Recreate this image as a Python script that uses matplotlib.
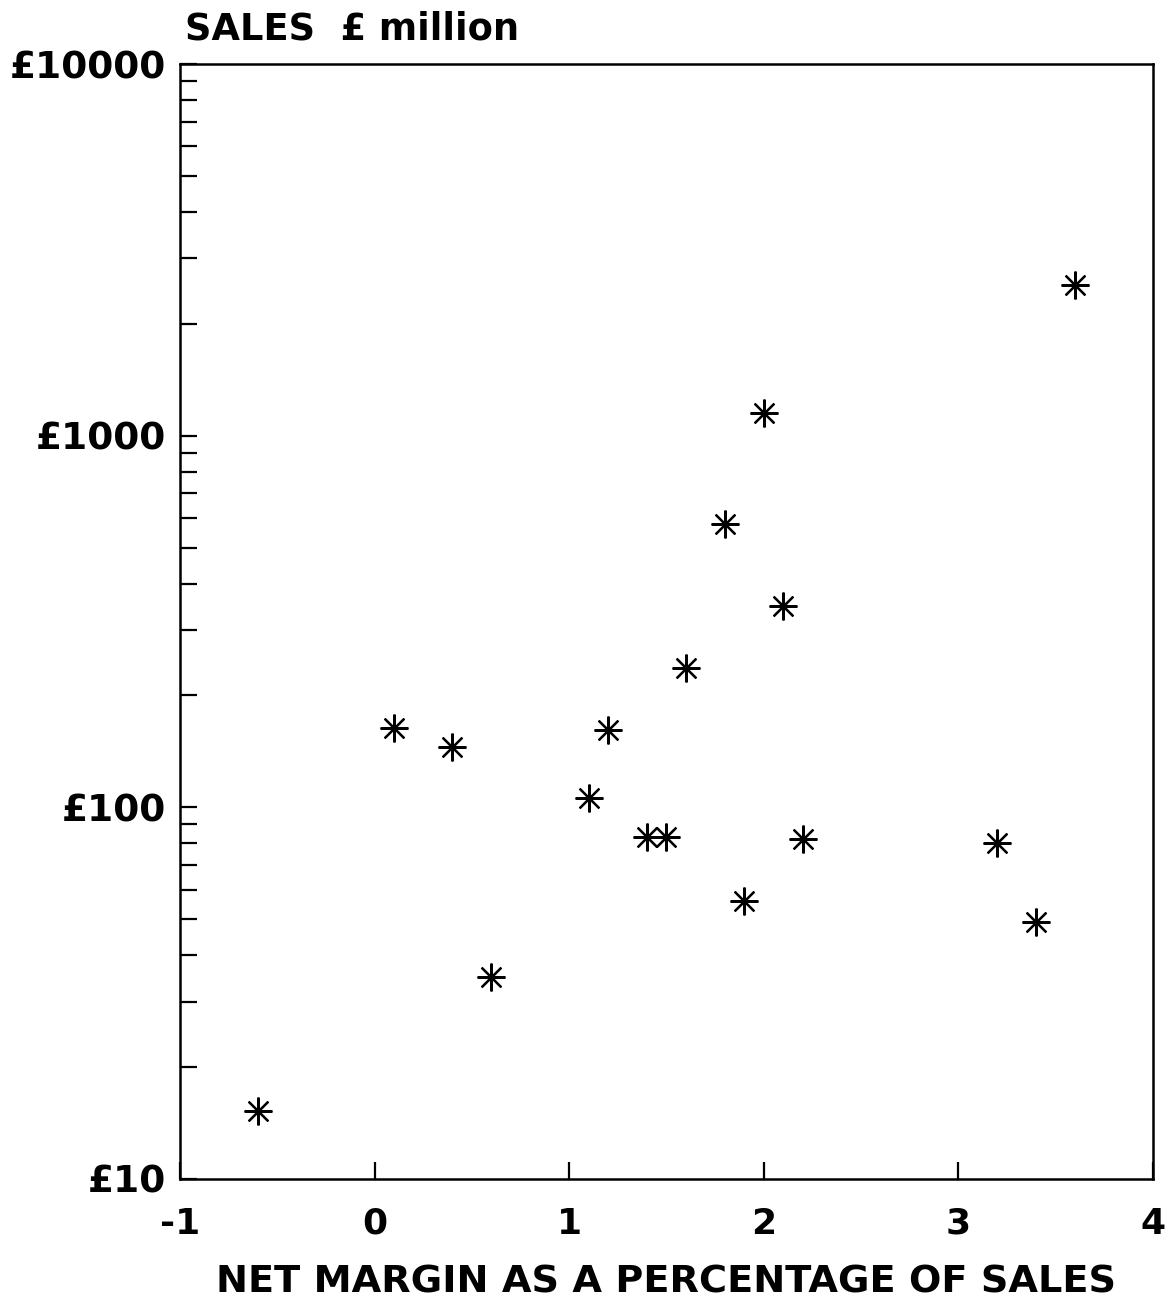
import matplotlib
matplotlib.use("Agg")
import matplotlib.pyplot as plt
from matplotlib.ticker import FixedLocator, LogLocator, NullFormatter, NullLocator

# Net margin (% of sales) and sales (£ million) for each company
net_margin = [-0.6, 0.1, 0.4, 0.6, 1.1, 1.2, 1.4, 1.5, 1.6, 1.8, 1.9, 2.0, 2.1, 2.2, 3.2, 3.4, 3.6]
sales = [15.2, 163, 145, 35, 106, 161, 83, 83, 237, 580, 56, 1150, 348, 82, 80, 49, 2550]

x_ticks = [-1, 0, 1, 2, 3, 4]
x_tick_labels = ["-1", "0", "1", "2", "3", "4"]
y_ticks = [10, 100, 1000, 10000]
y_tick_labels = ["£10", "£100", "£1000", "£10000"]

plt.rcParams["font.family"] = ["DejaVu Sans"]

fig = plt.figure(figsize=(11.71, 13.04), dpi=100)
ax = fig.add_axes([0.1537, 0.0959, 0.8309, 0.855])

ax.plot(net_margin, sales, linestyle="none", marker=(8, 2, 0),
        markersize=20, markeredgewidth=1.6, color="black")

ax.set_xscale("linear")
ax.set_yscale("log")
ax.set_xlim(-1, 4)
ax.set_ylim(10, 10000)

ax.xaxis.set_major_locator(FixedLocator(x_ticks))
ax.set_xticklabels(x_tick_labels, fontsize=26, fontweight="bold")
ax.xaxis.set_minor_locator(NullLocator())
ax.yaxis.set_major_locator(FixedLocator(y_ticks))
ax.set_yticklabels(y_tick_labels, fontsize=27, fontweight="bold")
ax.yaxis.set_minor_locator(LogLocator(base=10, subs=range(2, 10)))
ax.yaxis.set_minor_formatter(NullFormatter())

ax.tick_params(axis="both", which="both", direction="in", top=False, right=False,
               width=1.6, color="black")
ax.tick_params(axis="x", which="major", length=12, pad=20)
ax.tick_params(axis="y", which="major", length=12, pad=10)
ax.tick_params(axis="y", which="minor", length=12)

for side in ax.spines.values():
    side.set_linewidth(1.8)

ax.set_xlabel("NET MARGIN AS A PERCENTAGE OF SALES", fontsize=27.5,
              fontweight="bold", labelpad=17)
fig.text(0.158, 0.978, "SALES  £ million", fontsize=26.5, fontweight="bold",
         ha="left", va="center")

fig.savefig("out.png", dpi=100)
